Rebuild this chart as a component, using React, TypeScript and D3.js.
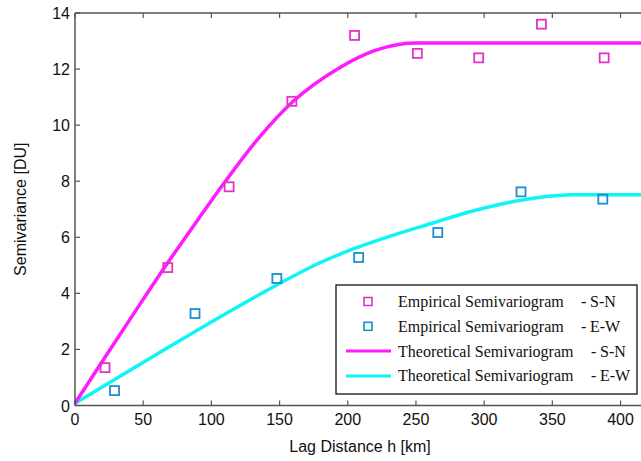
import * as d3 from 'd3'

// empirical semivariogram points [lag km, semivariance DU]
const empiricalSN = [
  [22, 1.35], [68, 4.92], [113, 7.8], [159, 10.85], [205, 13.2],
  [251, 12.56], [296, 12.4], [342, 13.6], [388, 12.4],
]
const empiricalEW = [
  [29, 0.53], [88, 3.28], [148, 4.53], [208, 5.28], [266, 6.17],
  [327, 7.62], [387, 7.36],
]

// theoretical curves
const theoreticalSN = [
  [0, 0.08], [22, 1.72], [45, 3.42], [67, 5.02], [90, 6.62], [110, 7.98],
  [134, 9.5], [160, 10.85], [194, 12.05], [219, 12.65], [237, 12.88],
  [250, 12.93], [330, 12.93], [415, 12.93],
]
const theoreticalEW = [
  [0, 0.08], [30, 0.95], [70, 2.12], [106, 3.15], [148, 4.3], [180, 5.1],
  [206, 5.62], [238, 6.15], [263, 6.52], [285, 6.85], [312, 7.18],
  [340, 7.42], [365, 7.52], [415, 7.52],
]

const xTicks = [0, 50, 100, 150, 200, 250, 300, 350, 400]
const yTicks = [0, 2, 4, 6, 8, 10, 12, 14]

const legendItems = [
  { kind: 'marker', color: '#e332c8', label: 'Empirical Semivariogram', dir: 'S-N' },
  { kind: 'marker', color: '#1b8fcf', label: 'Empirical Semivariogram', dir: 'E-W' },
  { kind: 'line', color: '#ff1aff', label: 'Theoretical Semivariogram', dir: 'S-N' },
  { kind: 'line', color: '#0ff5f5', label: 'Theoretical Semivariogram', dir: 'E-W' },
]

const W = 641
const H = 461
const margin = { top: 13, right: 0, bottom: 55.5, left: 75 }

export default function App() {
  const x = d3.scaleLinear().domain([0, 415]).range([margin.left, W - margin.right])
  const y = d3.scaleLinear().domain([0, 14]).range([H - margin.bottom, margin.top])

  const line = d3
    .line<number[]>()
    .x((d) => x(d[0]))
    .y((d) => y(d[1]))
    .curve(d3.curveMonotoneX)

  const sans = '"Liberation Sans", Arial, sans-serif'
  const serif = '"Liberation Serif", "Times New Roman", serif'
  const axisColor = '#555'
  const y0 = y(0)
  const yTop = y(14)
  const ms = 9

  const legend = { x: 336, y: 285, w: 301, h: 109, row0: 301.5, rowStep: 24.8 }

  return (
    <svg width={W} height={H} style={{ position: 'absolute', left: 0, top: 0, background: '#fff' }}>
      <rect width={W} height={H} fill="#fff" />

      {/* curves */}
      <path d={line(theoreticalEW) || ''} fill="none" stroke="#0ff5f5" strokeWidth={3.5} />
      <path d={line(theoreticalSN) || ''} fill="none" stroke="#ff1aff" strokeWidth={3.5} />

      {/* empirical markers */}
      {empiricalSN.map((d, i) => (
        <rect key={'sn' + i} x={x(d[0]) - ms / 2} y={y(d[1]) - ms / 2} width={ms} height={ms}
          fill="none" stroke="#e332c8" strokeWidth={1.8} />
      ))}
      {empiricalEW.map((d, i) => (
        <rect key={'ew' + i} x={x(d[0]) - ms / 2} y={y(d[1]) - ms / 2} width={ms} height={ms}
          fill="none" stroke="#1b8fcf" strokeWidth={1.8} />
      ))}

      {/* axes box */}
      <line x1={margin.left} x2={W} y1={y0} y2={y0} stroke={axisColor} strokeWidth={1.5} />
      <line x1={margin.left} x2={W} y1={yTop} y2={yTop} stroke={axisColor} strokeWidth={1.5} />
      <line x1={margin.left} x2={margin.left} y1={yTop} y2={y0} stroke={axisColor} strokeWidth={1.5} />

      {xTicks.map((t) => (
        <g key={'xt' + t}>
          <line x1={x(t)} x2={x(t)} y1={y0} y2={y0 - 5} stroke={axisColor} strokeWidth={1.2} />
          <line x1={x(t)} x2={x(t)} y1={yTop} y2={yTop + 5} stroke={axisColor} strokeWidth={1.2} />
          <text x={x(t)} y={y0 + 19.5} textAnchor="middle" fontFamily={sans} fontSize={16} fill="#111">
            {t}
          </text>
        </g>
      ))}
      {yTicks.map((t) => (
        <g key={'yt' + t}>
          <line x1={margin.left} x2={margin.left + 5} y1={y(t)} y2={y(t)} stroke={axisColor} strokeWidth={1.2} />
          <text x={margin.left - 5} y={y(t) + 6} textAnchor="end" fontFamily={sans} fontSize={16} fill="#111">
            {t}
          </text>
        </g>
      ))}

      <text x={360} y={452} textAnchor="middle" fontFamily={sans} fontSize={16} fill="#111">
        Lag Distance h [km]
      </text>
      <text transform={`translate(26,${(y0 + yTop) / 2}) rotate(-90)`} textAnchor="middle"
        fontFamily={sans} fontSize={16} fill="#111">
        Semivariance [DU]
      </text>

      {/* legend */}
      <rect x={legend.x} y={legend.y} width={legend.w} height={legend.h} fill="#fff" stroke="#111" strokeWidth={1.3} />
      {legendItems.map((it, i) => {
        const cy = legend.row0 + i * legend.rowStep
        return (
          <g key={'lg' + i}>
            {it.kind === 'marker' ? (
              <rect x={368 - 4} y={cy - 4} width={8} height={8} fill="none" stroke={it.color} strokeWidth={1.6} />
            ) : (
              <line x1={346} x2={391} y1={cy} y2={cy} stroke={it.color} strokeWidth={3} />
            )}
            <text x={398} y={cy + 5.5} fontFamily={serif} fontSize={16} fill="#111">
              {it.label}
            </text>
            <text x={it.kind === 'marker' ? 581 : 591} y={cy + 5.5} fontFamily={serif} fontSize={16} fill="#111">
              -
            </text>
            <text x={it.kind === 'marker' ? 590 : 600} y={cy + 5.5} fontFamily={serif} fontSize={16} fill="#111">
              {it.dir}
            </text>
          </g>
        )
      })}
    </svg>
  )
}
